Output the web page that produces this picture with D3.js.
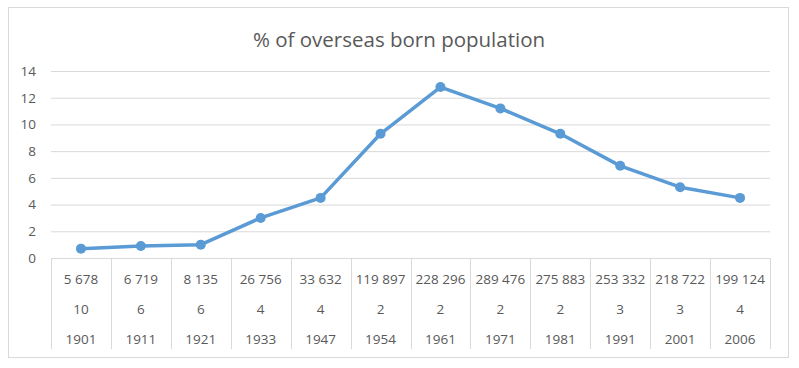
<!DOCTYPE html>
<html>
<head>
<meta charset="utf-8">
<script src="https://cdn.jsdelivr.net/npm/d3@7"></script>
<style>
  body { margin: 0; background: #fff; }
  text { font-family: "Open Sans", sans-serif; fill: #595959; }
</style>
</head>
<body>
<svg width="799" height="368"></svg>
<script>
// data
const years = ["1901","1911","1921","1933","1947","1954","1961","1971","1981","1991","2001","2006"];
const bornCounts = ["5 678","6 719","8 135","26 756","33 632","119 897","228 296","289 476","275 883","253 332","218 722","199 124"];
const ranks = ["10","6","6","4","4","2","2","2","2","3","3","4"];
const percent = [0.7, 0.9, 1.0, 3.0, 4.5, 9.3, 12.8, 11.2, 9.3, 6.9, 5.3, 4.5];
const yTicks = [0, 2, 4, 6, 8, 10, 12, 14];

const svg = d3.select("svg"),
    width = +svg.attr("width"),
    height = +svg.attr("height");

const margin = {left: 51, right: 29, top: 71, bottom: 110};

// outer chart border
svg.append("rect")
    .attr("x", 8.5).attr("y", 7.5)
    .attr("width", 780).attr("height", 350)
    .attr("fill", "#fff")
    .attr("stroke", "#d9d9d9");

svg.append("text")
    .attr("x", 399).attr("y", 47)
    .attr("text-anchor", "middle")
    .style("font-size", "20.5px")
    .text("% of overseas born population");

const x = d3.scaleBand()
    .domain(years)
    .range([margin.left, width - margin.right]);

const y = d3.scaleLinear()
    .domain([0, 14])
    .range([height - margin.bottom, margin.top]);

// gridlines + y labels
const yAxis = svg.append("g")
    .attr("transform", `translate(${margin.left},0)`)
    .call(d3.axisLeft(y).tickValues(yTicks).tickSize(-(width - margin.left - margin.right)).tickPadding(15));
yAxis.select(".domain").remove();
yAxis.selectAll(".tick line").attr("stroke", "#d9d9d9");
yAxis.selectAll(".tick text").style("font-size", "13.5px").attr("fill", "#595959");

// multi-level category table
const tableTop = y(0), tableBottom = 349;
const bounds = years.map(d => x(d)).concat([x.range()[1]]);
svg.append("g")
    .selectAll("line")
    .data(bounds)
    .join("line")
      .attr("x1", d => Math.round(d) + 0.5)
      .attr("x2", d => Math.round(d) + 0.5)
      .attr("y1", tableTop)
      .attr("y2", tableBottom)
      .attr("stroke", "#d9d9d9");

const rows = [bornCounts, ranks, years];
const rowY = [284, 314, 344];
rows.forEach((row, i) => {
  svg.append("g")
    .selectAll("text")
    .data(row)
    .join("text")
      .attr("x", (d, j) => x(years[j]) + x.bandwidth() / 2)
      .attr("y", rowY[i])
      .attr("text-anchor", "middle")
      .style("font-size", "13.5px")
      .text(d => d);
});

// line
const line = d3.line()
    .x((d, i) => x(years[i]) + x.bandwidth() / 2)
    .y(d => y(d));

svg.append("path")
    .datum(percent)
    .attr("d", line)
    .attr("fill", "none")
    .attr("stroke", "#5b9bd5")
    .attr("stroke-width", 3.5)
    .attr("stroke-linejoin", "round");

svg.append("g")
    .selectAll("circle")
    .data(percent)
    .join("circle")
      .attr("cx", (d, i) => x(years[i]) + x.bandwidth() / 2)
      .attr("cy", d => y(d))
      .attr("r", 5)
      .attr("fill", "#5b9bd5");
</script>
</body>
</html>
